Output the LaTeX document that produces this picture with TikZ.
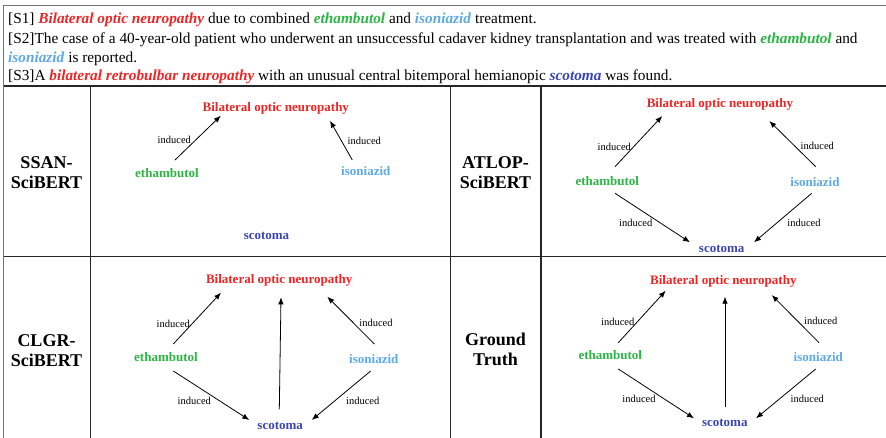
\documentclass[tikz,border=0pt]{standalone}
\usepackage{fontspec}
\setmainfont{Liberation Serif}
\usepackage{tikz}
\usetikzlibrary{arrows.meta}

\definecolor{bonred}{RGB}{230,40,40}
\definecolor{ethgreen}{RGB}{45,180,70}
\definecolor{isoblue}{RGB}{95,170,220}
\definecolor{scoblue}{RGB}{60,70,170}
\newcommand{\ment}[2]{\textcolor{#1}{\textbf{\textit{#2}}}}

\tikzset{
  ent/.style={font=\fontsize{13}{15}\selectfont\bfseries, inner sep=0pt, text height=9pt, text depth=0pt},
  rel/.style={font=\fontsize{10.5}{12}\selectfont, inner sep=0pt, text height=7pt, text depth=0pt},
  model/.style={font=\fontsize{18}{20}\selectfont\bfseries, align=center, inner sep=0pt},
  sent/.style={font=\fontsize{15.3}{17}\selectfont, anchor=west, inner sep=0pt, text height=10.5pt, text depth=0pt},
  arr/.style={-{Latex[length=7pt,width=5.5pt]}, line width=0.8pt},
  rule/.style={line width=1.2pt, black!85},
  frame/.style={line width=1.8pt, black!55}
}

\begin{document}
\begin{tikzpicture}[x=1pt,y=-1pt]
\useasboundingbox (0,0) rectangle (886,438);
% sentences
\draw [frame] (886,5.5) -- (3.5,5.5) -- (3.5,438);
\node[sent] (t1) at (8,18) {[S1] \ment{bonred}{Bilateral optic neuropathy} due to combined \ment{ethgreen}{ethambutol} and \ment{isoblue}{isoniazid} treatment.};
\node[sent] (t2) at (8,38) {[S2]The case of a 40-year-old patient who underwent an unsuccessful cadaver kidney transplantation and was treated with \ment{ethgreen}{ethambutol} and};
\node[sent] (t2b) at (8,57) {\ment{isoblue}{isoniazid} is reported.};
\node[sent] (t3) at (8,75) {[S3]A \ment{bonred}{bilateral retrobulbar neuropathy} with an unusual central bitemporal hemianopic \ment{scoblue}{scotoma} was found.};
% table
\draw [rule] (3.5,86) -- (886,86);
\draw [rule] (3.5,256.5) -- (886,256.5);
\draw [rule] (90.5,86) -- (90.5,438);
\draw [rule] (450.5,86) -- (450.5,438);
\draw [rule] (541,86) -- (541,438);

% SSAN-SciBERT
\node[model] (m1) at (46.5,173) {SSAN-\\SciBERT};
\node[ent,text=bonred] (b1) at (275.8,107.3) {Bilateral optic neuropathy};
\node[ent,text=ethgreen] (e1) at (167,173.3) {ethambutol};
\node[ent,text=isoblue] (i1) at (365.8,171) {isoniazid};
\node[ent,text=scoblue] (s1) at (266.5,235) {scotoma};
\draw [arr] ([shift={(8,-13.3)}]e1.center) -- ([shift={(-55,8.4)}]b1.center);
\draw [arr] ([shift={(-13.5,-11)}]i1.center) -- ([shift={(54.2,13.4)}]b1.center);
\node[rel] (r1a) at (174.3,140) {induced};
\node[rel] (r1b) at (364.3,140.7) {induced};

% ATLOP-SciBERT
\node[model] (m2) at (495.5,173) {ATLOP-\\SciBERT};
\node[ent,text=bonred] (b2) at (720,103.3) {Bilateral optic neuropathy};
\node[ent,text=ethgreen] (e2) at (607.3,180.7) {ethambutol};
\node[ent,text=isoblue] (i2) at (815,182.3) {isoniazid};
\node[ent,text=scoblue] (s2) at (721.7,247.7) {scotoma};
\draw [arr] ([shift={(7.7,-14)}]e2.center) -- ([shift={(-57.7,12.7)}]b2.center);
\draw [arr] ([shift={(0.7,-15.6)}]i2.center) -- ([shift={(49.3,17.7)}]b2.center);
\draw [arr] ([shift={(7.7,12.6)}]e2.center) -- ([shift={(-31.7,-5.4)}]s2.center);
\draw [arr] ([shift={(-3.3,11)}]i2.center) -- ([shift={(32.3,-5.4)}]s2.center);
\node[rel] (r2a) at (614.3,147.3) {induced};
\node[rel] (r2b) at (817.3,146) {induced};
\node[rel] (r2c) at (635.7,223.3) {induced};
\node[rel] (r2d) at (804,223.3) {induced};

% CLGR-SciBERT
\node[model] (m3) at (46.5,350.5) {CLGR-\\SciBERT};
\node[ent,text=bonred] (b3) at (279.2,279.3) {Bilateral optic neuropathy};
\node[ent,text=ethgreen] (e3) at (166,356.7) {ethambutol};
\node[ent,text=isoblue] (i3) at (373.8,359.3) {isoniazid};
\node[ent,text=scoblue] (s3) at (280.2,425) {scotoma};
\draw [arr] ([shift={(7.3,-12.7)}]e3.center) -- ([shift={(-58.2,13.4)}]b3.center);
\draw [arr] ([shift={(0.5,-15.3)}]i3.center) -- ([shift={(48.1,17.4)}]b3.center);
\draw [arr] ([shift={(-0.9,-15.7)}]s3.center) -- ([shift={(1.8,18)}]b3.center);
\draw [arr] ([shift={(7.3,14.3)}]e3.center) -- ([shift={(-30.9,-5)}]s3.center);
\draw [arr] ([shift={(-3.1,11.7)}]i3.center) -- ([shift={(31.5,-5)}]s3.center);
\node[rel] (r3a) at (173.3,324.3) {induced};
\node[rel] (r3b) at (376,323.3) {induced};
\node[rel] (r3c) at (194.3,401) {induced};
\node[rel] (r3d) at (362.7,401) {induced};

% Ground Truth
\node[model] (m4) at (495.5,349.5) {Ground\\Truth};
\node[ent,text=bonred] (b4) at (723.3,280) {Bilateral optic neuropathy};
\node[ent,text=ethgreen] (e4) at (610.3,355) {ethambutol};
\node[ent,text=isoblue] (i4) at (818.3,357.3) {isoniazid};
\node[ent,text=scoblue] (s4) at (724.8,422.3) {scotoma};
\draw [arr] ([shift={(8,-12.3)}]e4.center) -- ([shift={(-57.6,10.7)}]b4.center);
\draw [arr] ([shift={(0.7,-14.6)}]i4.center) -- ([shift={(48.4,15)}]b4.center);
\draw [arr] ([shift={(0.2,-15)}]s4.center) -- ([shift={(1.7,16.7)}]b4.center);
\draw [arr] ([shift={(8,14)}]e4.center) -- ([shift={(-30.8,-4)}]s4.center);
\draw [arr] ([shift={(-2.6,11.7)}]i4.center) -- ([shift={(31.2,-4)}]s4.center);
\node[rel] (r4a) at (617.7,322.3) {induced};
\node[rel] (r4b) at (820.7,321) {induced};
\node[rel] (r4c) at (639,399) {induced};
\node[rel] (r4d) at (807.3,399) {induced};
\end{tikzpicture}
\end{document}
